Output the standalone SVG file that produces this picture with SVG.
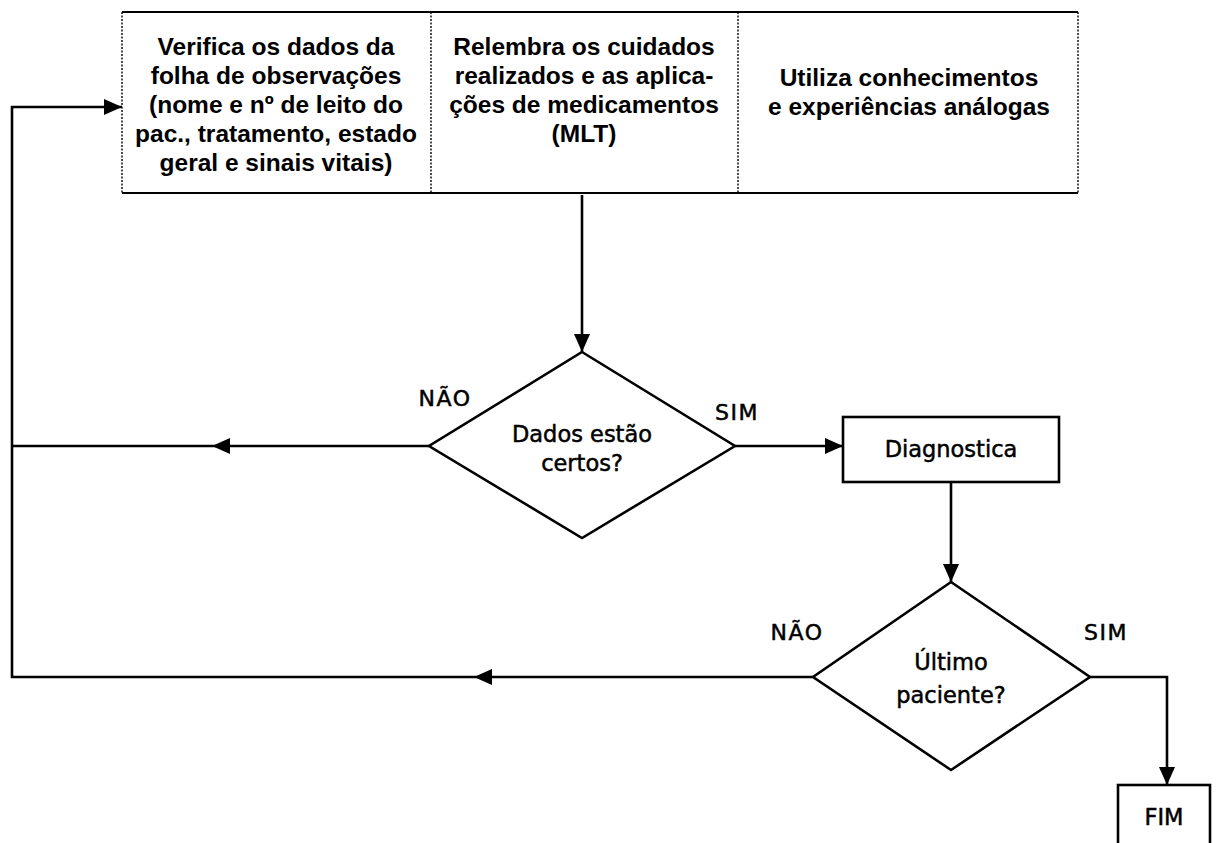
<svg xmlns="http://www.w3.org/2000/svg" width="1219" height="843" viewBox="0 0 1219 843">
<style>
.solid{stroke:#000;stroke-width:2.2;fill:none}
.dot{stroke:#000;stroke-width:1.4;stroke-dasharray:2 1.5;fill:none}
.shape{stroke:#000;stroke-width:2.6;fill:#fff}
.conn{stroke:#000;stroke-width:2.6;fill:none}
.tb{font-family:"Liberation Sans",Arial,sans-serif;font-weight:bold;font-size:24.5px;text-anchor:middle;fill:#000}
.t{font-family:"DejaVu Sans",sans-serif;font-size:22.5px;text-anchor:middle;fill:#000;stroke:#000;stroke-width:0.5}
.lbl{font-family:"DejaVu Sans",sans-serif;font-size:22px;letter-spacing:1.5px;text-anchor:middle;fill:#000;stroke:#000;stroke-width:0.5}
</style>
<defs>
<marker id="ah" markerUnits="userSpaceOnUse" markerWidth="20" markerHeight="16" refX="18" refY="8" orient="auto">
<path d="M0,0 L18,8 L0,16 Z" fill="#000"/>
</marker>
</defs>
<rect width="1219" height="843" fill="#fff"/>

<g id="connectors">
<path class="conn" d="M582,195 V352" marker-end="url(#ah)"/>
<path class="conn" d="M429,446 H212" marker-end="url(#ah)"/>
<path class="conn" d="M212,446 H12"/>
<path class="conn" d="M735,446 H843" marker-end="url(#ah)"/>
<path class="conn" d="M951,482 V582" marker-end="url(#ah)"/>
<path class="conn" d="M813,677 H474" marker-end="url(#ah)"/>
<path class="conn" d="M474,677 H12 V107 H122" marker-end="url(#ah)"/>
<path class="conn" d="M1090,677 H1167 V785" marker-end="url(#ah)"/>
</g>

<g id="topbox">
<line class="solid" x1="122" y1="12" x2="1078" y2="12"/>
<line class="solid" x1="122" y1="193" x2="1078" y2="193"/>
<line class="dot" x1="122" y1="12" x2="122" y2="193"/>
<line class="dot" x1="431" y1="12" x2="431" y2="193"/>
<line class="dot" x1="738" y1="12" x2="738" y2="193"/>
<line class="dot" x1="1078" y1="12" x2="1078" y2="193"/>
</g>

<g id="verifica">
<text class="tb" x="276" y="55">Verifica os dados da</text>
<text class="tb" x="276" y="84">folha de observações</text>
<text class="tb" x="276" y="113">(nome e nº de leito do</text>
<text class="tb" x="276" y="142">pac., tratamento, estado</text>
<text class="tb" x="276" y="171">geral e sinais vitais)</text>
</g>

<g id="relembra">
<text class="tb" x="584" y="55">Relembra os cuidados</text>
<text class="tb" x="584" y="84">realizados e as aplica-</text>
<text class="tb" x="584" y="113">ções de medicamentos</text>
<text class="tb" x="584" y="142">(MLT)</text>
</g>

<g id="utiliza">
<text class="tb" x="909" y="86">Utiliza conhecimentos</text>
<text class="tb" x="909" y="115">e experiências análogas</text>
</g>

<g id="dados">
<polygon class="shape" points="582,352 735,446 582,538 429,446"/>
<text class="t" x="582" y="442">Dados estão</text>
<text class="t" x="582" y="471">certos?</text>
</g>

<g id="labels">
<text class="lbl" x="445" y="406">NÃO</text>
<text class="lbl" x="737" y="420">SIM</text>
<text class="lbl" x="797" y="640">NÃO</text>
<text class="lbl" x="1106" y="640">SIM</text>
</g>

<g id="diagnostica">
<rect class="shape" x="843" y="417" width="216" height="65"/>
<text class="t" x="951" y="457">Diagnostica</text>
</g>

<g id="ultimo">
<polygon class="shape" points="951,582 1090,677 951,770 813,677"/>
<text class="t" x="951" y="670">Último</text>
<text class="t" x="951" y="703">paciente?</text>
</g>

<g id="fim">
<rect class="shape" x="1118" y="785" width="92" height="70"/>
<text class="t" x="1164" y="825">FIM</text>
</g>
</svg>
